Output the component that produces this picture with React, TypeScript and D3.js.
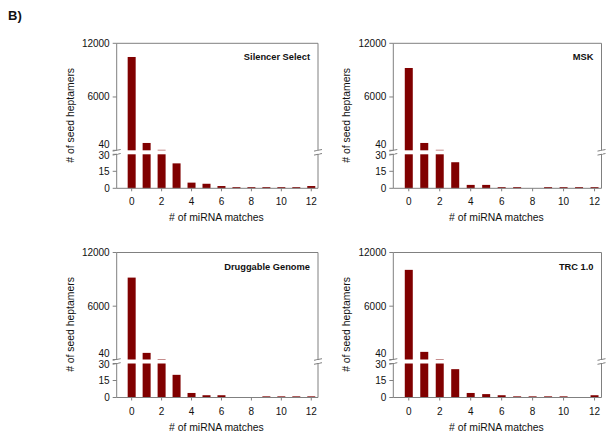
import React from "react";
import * as d3 from "d3";

const categories = [0, 1, 2, 3, 4, 5, 6, 7, 8, 9, 10, 11, 12];
const xTickLabels = [0, 2, 4, 6, 8, 10, 12];
const lowTicks = [0, 15, 30];
const highTicks = [40, 6000, 12000];

const silencerSelect = [10470, 860, 90, 22, 5, 4, 2, 1, 1, 1, 1, 1, 2];
const msk = [9240, 860, 90, 23, 3, 3, 1, 1, 0, 1, 1, 1, 1];
const druggableGenome = [9195, 780, 90, 20, 4, 2, 2, 0, 0, 1, 1, 1, 1];
const trc = [10060, 893, 90, 25, 4, 3, 2, 1, 1, 1, 1, 0, 2];

const panelTitles = ["Silencer Select", "MSK", "Druggable Genome", "TRC 1.0"];
const yTitle = "# of seed heptamers";
const xTitle = "# of miRNA matches";

const FONT = "'Liberation Sans', Arial, sans-serif";
const BAR = "#800000";
const AXIS = "#808080";

type PanelProps = {
  left: number;
  top: number;
  right: number;
  values: number[];
  title: string;
};

function Panel({ left, top, right, values, title }: PanelProps) {
  const base = top + 145;
  const lowTop = base - 34;
  const highBottom = lowTop - 4;
  const x = d3.scaleLinear().domain([-1, 12.45]).range([left, right]);
  const yLow = d3.scaleLinear().domain([0, 30]).range([base, lowTop]);
  const yHigh = d3.scaleLinear().domain([40, 12000]).range([highBottom, top]);
  const bw = 8;

  const brk = (cx: number) => (
    <g>
      {[highBottom, lowTop].map((yy, i) => (
        <line key={i} x1={cx - 4} x2={cx + 4} y1={yy + 0.8} y2={yy - 0.8} stroke={AXIS} strokeWidth={1} />
      ))}
      <line x1={cx} x2={cx} y1={highBottom + 0.5} y2={lowTop - 0.5} stroke="#fff" strokeWidth={3} />
    </g>
  );

  return (
    <g>
      {/* bars */}
      {categories.map((c, i) => {
        const v = values[i];
        const lowV = Math.min(v, 30);
        const parts: React.ReactNode[] = [];
        if (lowV > 0) {
          parts.push(
            <rect key="l" x={x(c) - bw / 2} y={yLow(lowV)} width={bw} height={base - yLow(lowV)} fill={BAR} />
          );
        }
        if (v > 40) {
          parts.push(
            <rect key="h" x={x(c) - bw / 2} y={yHigh(v)} width={bw} height={highBottom - yHigh(v)} fill={BAR} />
          );
        }
        return <g key={c}>{parts}</g>;
      })}
      {/* frame */}
      <line x1={left} x2={right} y1={top} y2={top} stroke={AXIS} strokeWidth={1} />
      <line x1={left} x2={right} y1={base} y2={base} stroke={AXIS} strokeWidth={1} />
      <line x1={left} x2={left} y1={top} y2={base} stroke={AXIS} strokeWidth={1} />
      <line x1={right} x2={right} y1={top} y2={base} stroke={AXIS} strokeWidth={1} />
      {brk(left)}
      {brk(right)}
      {/* y ticks */}
      {lowTicks.map((t) => (
        <g key={"l" + t}>
          <line x1={left - 4} x2={left} y1={yLow(t)} y2={yLow(t)} stroke={AXIS} />
          <text x={left - 7} y={yLow(t) + (t === 30 ? 1 : 0)} dy="0.35em" textAnchor="end" fontSize={10} fontFamily={FONT} fill="#111">
            {t}
          </text>
        </g>
      ))}
      {highTicks.map((t) => (
        <g key={"h" + t}>
          <line x1={left - 4} x2={left} y1={yHigh(t)} y2={yHigh(t)} stroke={AXIS} />
          <text x={left - 7} y={yHigh(t) - (t === 40 ? 6 : 0)} dy="0.35em" textAnchor="end" fontSize={10} fontFamily={FONT} fill="#111">
            {t}
          </text>
        </g>
      ))}
      {/* x ticks */}
      {xTickLabels.map((t) => (
        <g key={"x" + t}>
          <line x1={x(t)} x2={x(t)} y1={base} y2={base + 3} stroke={AXIS} />
          <text x={x(t)} y={base + 17} textAnchor="middle" fontSize={10} fontFamily={FONT} fill="#111">
            {t}
          </text>
        </g>
      ))}
      {/* titles */}
      <text x={right - 8} y={top + 17} textAnchor="end" fontSize={9.3} fontWeight="bold" fontFamily={FONT} fill="#111">
        {title}
      </text>
      <text
        transform={`translate(${left - 43},${top + 72}) rotate(-90)`}
        textAnchor="middle"
        fontSize={10.4}
        fontFamily={FONT}
        fill="#111"
      >
        {yTitle}
      </text>
      <text x={(left + right) / 2 - 1} y={base + 33} textAnchor="middle" fontSize={10.4} fontFamily={FONT} fill="#111">
        {xTitle}
      </text>
    </g>
  );
}

export default function App() {
  return (
    <svg width={612} height={438} style={{ position: "absolute", left: 0, top: 0, background: "#fff" }}>
      <rect width={612} height={438} fill="#fff" />
      <text x={8} y={20} fontSize={13} fontWeight="bold" fontFamily={FONT} fill="#111">
        B)
      </text>
      <Panel left={116.7} top={43.3} right={318} values={silencerSelect} title={panelTitles[0]} />
      <Panel left={393.3} top={43.3} right={601.5} values={msk} title={panelTitles[1]} />
      <Panel left={116.7} top={252.5} right={318} values={druggableGenome} title={panelTitles[2]} />
      <Panel left={393.3} top={252.5} right={601.5} values={trc} title={panelTitles[3]} />
    </svg>
  );
}
